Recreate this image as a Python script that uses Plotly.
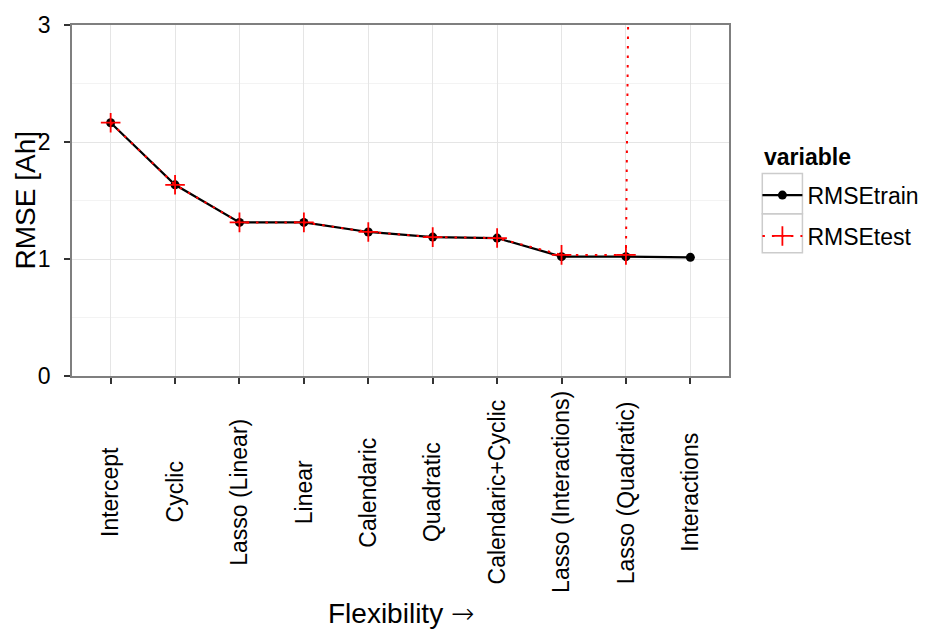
import plotly.graph_objects as go

models = ["Intercept", "Cyclic", "Lasso (Linear)", "Linear", "Calendaric", "Quadratic",
          "Calendaric+Cyclic", "Lasso (Interactions)", "Lasso (Quadratic)", "Interactions"]
rmse_train = [2.165, 1.634, 1.313, 1.313, 1.231, 1.187, 1.179, 1.020, 1.020, 1.014]
rmse_test = [2.165, 1.634, 1.313, 1.313, 1.231, 1.187, 1.179, 1.035, 1.035, 60.0]
y_ticks = [0, 1, 2, 3]
y_minor = [0.5, 1.5, 2.5]

FONT = "Liberation Sans, Arial, Helvetica, sans-serif"
SMALL = 23
BIG = 28

L, R, T, B = 72, 193, 17, 258
W, H = 936, 634
pw, ph = W - L - R, H - T - B


def px2x(p):
    return (p - L) / pw


def px2y(p):
    return (H - B - p) / ph


fig = go.Figure()
fig.add_trace(go.Scatter(
    x=models, y=rmse_train, name="RMSEtrain", mode="lines+markers", legendgroup="a",
    line=dict(color="black", width=2.2),
    marker=dict(symbol="circle", size=9, color="black"),
))
fig.add_trace(go.Scatter(
    x=models, y=rmse_test, name="RMSEtest", mode="lines+markers", legendgroup="b",
    line=dict(color="#ff0000", width=2, dash="2.5px,7px"),
    marker=dict(symbol="cross-thin", size=14, line=dict(color="#ff0000", width=1.8)),
))

# legend key boxes (ggplot style)
for top, bot in [(169, 210), (210, 250)]:
    fig.add_shape(type="rect", xref="paper", yref="paper",
                  x0=px2x(777), x1=px2x(818), y0=px2y(bot), y1=px2y(top),
                  line=dict(color="#cccccc", width=1.5), fillcolor="rgba(0,0,0,0)", layer="below")

# legend title
fig.add_annotation(x=px2x(777), xref="paper", y=px2y(152), yref="paper", text="<b>variable</b>",
                   showarrow=False, xanchor="left", yanchor="middle",
                   font=dict(size=SMALL, family=FONT, color="black"))

# x tick labels, centred (ggplot default for rotated labels)
for m in models:
    fig.add_annotation(x=m, xref="x", y=px2y(495), yref="paper", text=m, textangle=-90,
                       showarrow=False, xanchor="center", yanchor="middle",
                       font=dict(size=SMALL, family=FONT, color="black"))

# axis titles
fig.add_annotation(x=0.5, xref="paper", y=px2y(619), yref="paper",
                   text="Flexibility <span style='font-family:DejaVu Sans;font-weight:200'>\u2192</span>",
                   showarrow=False, xanchor="center", yanchor="middle",
                   font=dict(size=BIG, family=FONT, color="black"))
fig.add_annotation(x=px2x(24), xref="paper", y=0.5, yref="paper", text="RMSE [Ah]",
                   textangle=-90, showarrow=False, xanchor="center", yanchor="middle",
                   font=dict(size=BIG, family=FONT, color="black"))

fig.update_layout(
    width=W, height=H,
    margin=dict(l=L, r=R, t=T, b=B),
    paper_bgcolor="white", plot_bgcolor="white",
    font=dict(family=FONT, size=SMALL, color="black"),
    showlegend=True,
    legend=dict(
        x=px2x(772), xanchor="left", y=px2y(169), yanchor="top",
        font=dict(size=SMALL, family=FONT), bgcolor="rgba(0,0,0,0)",
        itemwidth=40, tracegroupgap=8,
    ),
    xaxis=dict(
        type="category", categoryorder="array", categoryarray=models,
        range=[-0.6, 9.6], showticklabels=False,
        showgrid=True, gridcolor="#e5e5e5", gridwidth=1,
        ticks="outside", ticklen=6, tickwidth=1.5, tickcolor="#333333",
        showline=True, linecolor="#7f7f7f", linewidth=1.5, mirror=True,
        zeroline=False,
    ),
    yaxis=dict(
        range=[0, 3], tickvals=y_ticks,
        showgrid=True, gridcolor="#e5e5e5", gridwidth=1,
        minor=dict(tickvals=y_minor, showgrid=True, gridcolor="#f3f3f3", gridwidth=1, ticks=""),
        ticks="outside", ticklen=6, tickwidth=1.5, tickcolor="#333333",
        showline=True, linecolor="#7f7f7f", linewidth=1.5, mirror=True,
        tickfont=dict(size=SMALL, color="black", family=FONT),
        ticklabelstandoff=9,
        zeroline=False,
    ),
)

fig.write_html("out.html")
